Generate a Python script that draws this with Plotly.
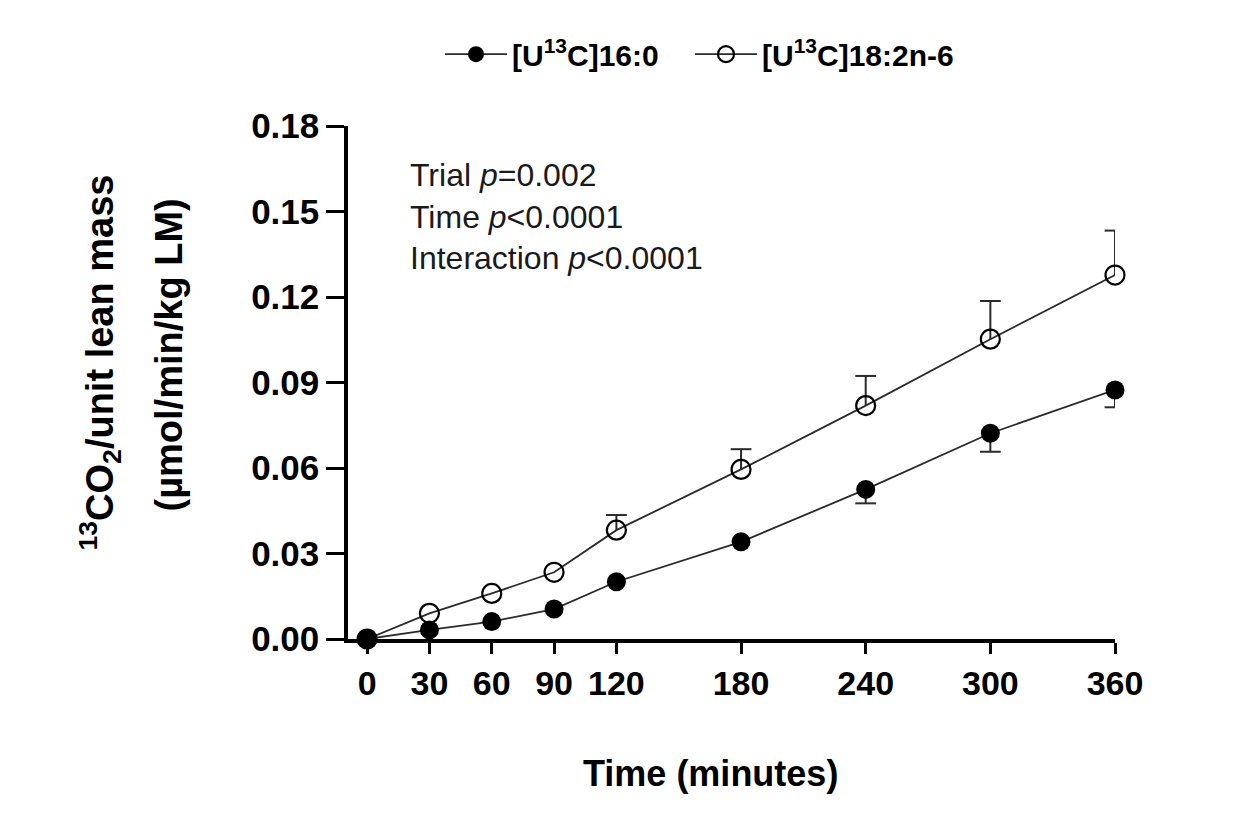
import plotly.graph_objects as go

# ---- data ----
time_min = [0, 30, 60, 90, 120, 180, 240, 300, 360]
palmitate = [0.0, 0.0032, 0.0061, 0.0105, 0.0201, 0.0341, 0.0525, 0.0722, 0.0874]
palmitate_sem = [0.0, 0.0, 0.0, 0.0, 0.0, 0.0, 0.0049, 0.0065, 0.0061]
linoleate = [0.0, 0.0090, 0.0160, 0.0234, 0.0382, 0.0595, 0.0819, 0.1052, 0.1277]
linoleate_sem = [0.0, 0.0, 0.0, 0.0, 0.0053, 0.0071, 0.0104, 0.0134, 0.0156]
y_ticks = [0.0, 0.03, 0.06, 0.09, 0.12, 0.15, 0.18]
name_a = "[U<sup>13</sup>C]16:0"
name_b = "[U<sup>13</sup>C]18:2n-6"

FONT = "Arial, 'Liberation Sans', sans-serif"
LINE_C = "#2a2a2a"
CAP = 5.0  # half cap width in minutes


def err_path(xs, ys, es, sign):
    px, py = [], []
    for x, y, e in zip(xs, ys, es):
        if e <= 0:
            continue
        end = y + sign * e
        px += [x, x, None, x - CAP, x + CAP, None]
        py += [y, end, None, end, end, None]
    return px, py


fig = go.Figure()

ex, ey = err_path(time_min, palmitate, palmitate_sem, -1)
fig.add_trace(go.Scatter(x=ex, y=ey, mode="lines", line=dict(color=LINE_C, width=2),
                         showlegend=False, hoverinfo="skip", cliponaxis=False))
ex, ey = err_path(time_min, linoleate, linoleate_sem, 1)
fig.add_trace(go.Scatter(x=ex, y=ey, mode="lines", line=dict(color=LINE_C, width=2),
                         showlegend=False, hoverinfo="skip", cliponaxis=False))

fig.add_trace(go.Scatter(
    x=time_min, y=linoleate, name=name_b, mode="lines+markers",
    line=dict(color=LINE_C, width=1.8),
    marker=dict(symbol="circle-open", size=19, color="black", line=dict(width=2.2, color="black")),
    cliponaxis=False, legendrank=2, legendwidth=210))
fig.add_trace(go.Scatter(
    x=time_min, y=palmitate, name=name_a, mode="lines+markers",
    line=dict(color=LINE_C, width=1.8),
    marker=dict(symbol="circle", size=19, color="black"),
    cliponaxis=False, legendrank=1, legendwidth=173))

fig.update_layout(
    width=1234, height=824,
    margin=dict(l=348, r=119, t=126, b=185, autoexpand=False),
    plot_bgcolor="white", paper_bgcolor="white",
    font=dict(family=FONT, color="black"),
    showlegend=True,
    legend=dict(orientation="h", x=(440 - 348) / 767, xanchor="left",
                y=1.14, yanchor="middle",
                font=dict(size=30, weight="bold", family=FONT),
                itemwidth=62,
                traceorder="normal", bgcolor="rgba(0,0,0,0)"),
    xaxis=dict(range=[-9.2, 360], tickvals=time_min, ticks="outside", ticklen=11, tickwidth=3,
               showline=True, linewidth=3.5, linecolor="black", tickcolor="black",
               showgrid=False, zeroline=False, tickangle=0, automargin=False,
               tickfont=dict(size=34, weight="bold", family=FONT)),
    yaxis=dict(range=[0, 0.18], tickvals=y_ticks, tickformat=".2f", ticks="outside",
               ticklen=18, tickwidth=3, automargin=False,
               showline=True, linewidth=3.5, linecolor="black", tickcolor="black",
               showgrid=False, zeroline=False,
               tickfont=dict(size=35, weight="bold", family=FONT)),
)

# statistics text
fig.add_annotation(
    xref="paper", yref="paper", x=0.078, y=0.9435, xanchor="left", yanchor="top",
    align="left", showarrow=False,
    text="Trial <i>p</i>=0.002<br>Time <i>p</i>&lt;0.0001<br>Interaction <i>p</i>&lt;0.0001",
    font=dict(size=32, family=FONT, color="#1a1a1a"))

# axis titles
fig.add_annotation(
    xref="paper", yref="paper", x=(710 - 348) / 767, y=-0.262, xanchor="center", yanchor="middle",
    showarrow=False, text="Time (minutes)",
    font=dict(size=36, weight="bold", family=FONT))
fig.add_annotation(
    xref="paper", yref="paper", x=0, y=0.5, xshift=-248, yshift=20, xanchor="center", yanchor="middle",
    showarrow=False, textangle=-90, text="<sup>13</sup>CO<sub>2</sub>/unit lean mass",
    font=dict(size=38, weight="bold", family=FONT))
fig.add_annotation(
    xref="paper", yref="paper", x=0, y=0.5, xshift=-180, yshift=27, xanchor="center", yanchor="middle",
    showarrow=False, textangle=-90, text="(µmol/min/kg LM)",
    font=dict(size=38, weight="bold", family=FONT))

fig.write_html("out.html")
